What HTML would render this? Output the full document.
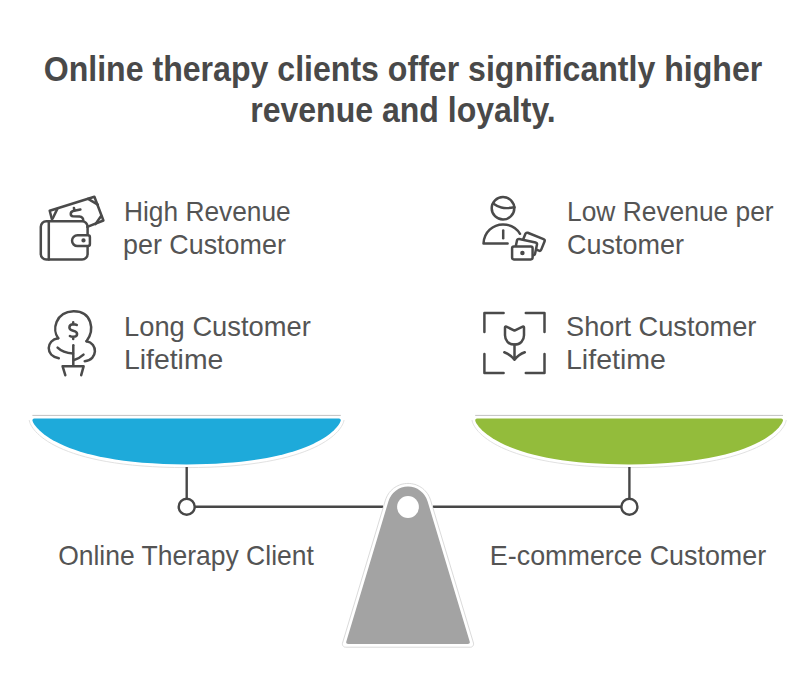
<!DOCTYPE html>
<html>
<head>
<meta charset="utf-8">
<style>
  html, body { margin: 0; padding: 0; background: #ffffff; }
  body { width: 800px; height: 680px; position: relative; overflow: hidden;
         font-family: "Liberation Sans", sans-serif; }
  .t { position: absolute; white-space: nowrap; line-height: 1; }
  svg { position: absolute; left: 0; top: 0; }
</style>
</head>
<body>
<div class="t" style="left:3.30px;width:800px;text-align:center;top:50.77px;font-size:35px;transform:scaleX(0.91683);transform-origin:50% 0;font-weight:bold;color:#494949;">Online therapy clients offer significantly higher</div>
<div class="t" style="left:3.20px;width:800px;text-align:center;top:92.27px;font-size:35px;transform:scaleX(0.915);transform-origin:50% 0;font-weight:bold;color:#494949;">revenue and loyalty.</div>
<div class="t" style="left:124.40px;top:197.90px;font-size:28px;transform:scaleX(0.9393);transform-origin:0 0;color:#545454;">High Revenue</div>
<div class="t" style="left:123.40px;top:230.60px;font-size:28px;transform:scaleX(0.96);transform-origin:0 0;color:#545454;">per Customer</div>
<div class="t" style="left:566.65px;top:197.90px;font-size:28px;transform:scaleX(0.9415);transform-origin:0 0;color:#545454;">Low Revenue per</div>
<div class="t" style="left:566.65px;top:230.60px;font-size:28px;transform:scaleX(0.964);transform-origin:0 0;color:#545454;">Customer</div>
<div class="t" style="left:124.40px;top:312.80px;font-size:28px;transform:scaleX(0.976);transform-origin:0 0;color:#545454;">Long Customer</div>
<div class="t" style="left:124.40px;top:345.60px;font-size:28px;transform:scaleX(1.013);transform-origin:0 0;color:#545454;">Lifetime</div>
<div class="t" style="left:565.80px;top:312.80px;font-size:28px;transform:scaleX(0.971);transform-origin:0 0;color:#545454;">Short Customer</div>
<div class="t" style="left:565.80px;top:345.60px;font-size:28px;transform:scaleX(1.019);transform-origin:0 0;color:#545454;">Lifetime</div>
<div class="t" style="left:-213.70px;width:800px;text-align:center;top:542.10px;font-size:28px;transform:scaleX(0.946);transform-origin:50% 0;color:#545454;">Online Therapy Client</div>
<div class="t" style="left:228.00px;width:800px;text-align:center;top:541.80px;font-size:28px;transform:scaleX(0.96);transform-origin:50% 0;color:#545454;">E-commerce Customer</div>
<svg width="800" height="680" viewBox="0 0 800 680">
  <!-- bowls -->
  <g id="bowlL">
    <path d="M32.4,415.4 L340.8,415.4" stroke="#c2c2c2" stroke-width="1"/>
    <path d="M344,420 C343,430 318,467.6 186.6,467.6 C55.2,467.6 30.2,430 29.2,420" fill="none" stroke="#dedede" stroke-width="0.9"/>
    <path d="M34.2,418.5 L339,418.5 Q340.8,418.5 340.8,420.3 C340.6,425 317.5,464.4 186.6,464.4 C55.7,464.4 32.6,425 32.4,420.3 Q32.4,418.5 34.2,418.5 Z" fill="#1eaada"/>
  </g>
  <path d="M475.2,415.4 L783,415.4" stroke="#c2c2c2" stroke-width="1"/>
  <path d="M786.2,420 C785.2,430 760.5,467.6 629.1,467.6 C497.7,467.6 473,430 472,420" fill="none" stroke="#dedede" stroke-width="0.9"/>
  <path d="M477,418.5 L781.2,418.5 Q783,418.5 783,420.3 C782.8,425 759.7,464.4 629.1,464.4 C498.5,464.4 475.4,425 475.2,420.3 Q475.2,418.5 477,418.5 Z" fill="#93bc3b"/>

  <!-- hangers -->
  <g stroke="#474747" stroke-width="2.4" fill="none">
    <line x1="186.7" y1="467" x2="186.7" y2="498"/>
    <circle cx="186.7" cy="506.8" r="8" fill="#fff"/>
    <line x1="194.7" y1="506.8" x2="383" y2="506.8"/>
    <line x1="629.4" y1="467" x2="629.4" y2="498"/>
    <circle cx="629.4" cy="506.8" r="8" fill="#fff"/>
    <line x1="433" y1="506.8" x2="621.4" y2="506.8"/>
  </g>

  <!-- fulcrum -->
  <path d="M408.0,483.4 L406.3,483.5 L404.5,483.7 L402.8,484.0 L401.1,484.4 L399.5,485.0 L397.9,485.7 L396.3,486.5 L394.9,487.4 L393.4,488.4 L391.8,489.9 L390.5,491.1 L389.4,492.4 L388.4,493.9 L387.5,495.3 L386.7,496.9 L386.0,498.5 L385.4,500.2 L342.5,643.1 L342.4,643.7 L342.4,644.3 L342.7,645.4 L343.0,645.9 L343.5,646.4 L344.4,647.0 L345.0,647.1 L345.6,647.2 L470.4,647.2 L471.3,647.1 L472.2,646.7 L472.9,646.0 L473.4,645.2 L473.6,644.2 L473.5,643.1 L430.6,500.2 L429.8,498.0 L429.1,496.4 L428.3,494.9 L427.3,493.4 L426.3,492.1 L425.1,490.8 L423.9,489.5 L422.6,488.4 L421.1,487.4 L419.7,486.5 L418.1,485.7 L416.5,485.0 L414.9,484.4 L413.2,484.0 L411.5,483.7 L409.8,483.5 L408.0,483.4Z" fill="none" stroke="#d6d6d6" stroke-width="0.9"/>
  <path id="ful" d="M388.46,501.14 A20.4,20.4 0 0 1 427.54,501.14 L469.68,641.61 Q470.4,644.0 467.90,644.00 L348.10,644.00 Q345.6,644.0 346.32,641.61 Z" fill="#a3a3a3"/>
  <circle cx="408" cy="507" r="10.9" fill="#fff"/>

  <!-- icons -->
  <g stroke="#4a4a4a" stroke-width="2.5" fill="none" stroke-linecap="round" stroke-linejoin="round">
    <!-- wallet -->
    <path d="M51.9,219.3 L49.7,210.8 L94.4,196.7 L103.4,220.5 L87.3,226.8"/>
    <path d="M57.2,209.1 L52.7,218.5"/>
    <path d="M88.1,198.9 L97.8,204.6"/>
    <path d="M101.1,216 L95.4,224.1"/>
    <path d="M80.4,209.5 L73,211 C70,212 70,216 73,216.3 L79.5,216.6 C82,216.8 83.5,218.5 83.2,220.5"/>
    <path d="M73.9,207.9 L74.5,210.3"/>
    <rect x="40.8" y="221.2" width="46.8" height="38.4" rx="5.5"/>
    <line x1="48.8" y1="221.2" x2="48.8" y2="259.4"/>
    <path d="M77.5,235.2 L87.9,235.2 Q89.9,235.2 89.9,237.2 L89.9,244.1 Q89.9,246.1 87.9,246.1 L77.5,246.1 A5.45,5.45 0 0 1 77.5,235.2 Z" fill="#fff"/>
    <circle cx="83.5" cy="240.4" r="0.9" fill="#4a4a4a"/>

    <!-- tree -->
    <path d="M58.2,338.2 C52,330 55,312 73.5,311.2 C92,311 95,330 86.5,341.2"/>
    <path d="M58.2,338.2 C46,340 45,356 58.8,358.2"/>
    <path d="M86.5,341.2 C98,343 98,360 84.7,361.2"/>
    <path d="M73.3,345.3 L73.3,365.3"/>
    <path d="M73.2,322.2 L73.2,324.3 M76.8,325 C76,324.4 74.8,324.3 73.2,324.3 C70.8,324.4 69.4,325.6 69.4,327.5 C69.4,329.7 71.5,330.4 73.2,330.8 C75.5,331.3 77.1,332.2 77.1,334 C77.1,335.8 75.5,336.8 73.2,336.8 C71.6,336.8 70.6,336.5 69.9,336 M73.2,336.8 L73.2,339"/>
    <path d="M57.6,347.6 C61,351 67,353 73,353.5"/>
    <path d="M74.1,360 C78,359 81,357 83.5,354.7"/>
    <path d="M65.3,375.2 L62.6,366.3 L83.6,366.3 L81.2,375.2"/>

    <!-- person -->
    <circle cx="503" cy="208.25" r="11.3"/>
    <path d="M493.5,203.8 C498,207 503,209.5 514.5,207.3"/>
    <path d="M507.6,243.5 L483.5,243.5 C484,232 493,224.4 503,224.4 C510,224.4 516.5,228 520,233.8"/>
    <path d="M503.2,230.6 L503.2,238.2"/>
    <rect x="0" y="0" width="20.6" height="12.4" rx="1.8" fill="#fff" transform="translate(526.1,232.1) rotate(22)"/>
    <rect x="0" y="0" width="20.4" height="13" rx="1.8" fill="#fff" transform="translate(517.4,238.6) rotate(11.9)"/>
    <rect x="512.1" y="246.5" width="20.5" height="12.9" rx="1.8" fill="#fff"/>
    <circle cx="522.4" cy="252.9" r="1" fill="#4a4a4a"/>

    <!-- frame -->
    <path d="M484.4,332 L484.4,313 L503.6,313 M525.8,313 L544.5,313 L544.5,332 M484.4,354 L484.4,373 L503.6,373 M525.8,373 L544.5,373 L544.5,354"/>
    <path d="M514.5,344.6 C508.5,344.6 505,340.2 505,335.2 L505,327.4 C505,326.6 505.7,326.4 506.3,326.7 L514.5,330.6 L522.7,326.7 C523.3,326.4 524,326.6 524,327.4 L524,335.2 C524,340.2 520.5,344.6 514.5,344.6 Z"/>
    <path d="M514.5,344.6 L514.5,359.6 M504.3,352.3 Q510.5,354.5 514.5,359.8 Q518.5,354.5 524.8,352.3"/>
  </g>
</svg>
</body>
</html>
